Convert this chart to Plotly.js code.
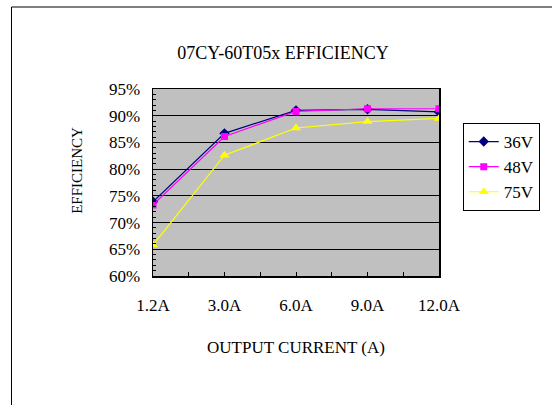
<!DOCTYPE html>
<html>
<head>
<meta charset="utf-8">
<script src="https://cdn.plot.ly/plotly-3.0.1.min.js"></script>
<style>
html,body{margin:0;padding:0;background:#fff;}
#chart{width:552px;height:405px;}
</style>
</head>
<body>
<div id="chart"></div>
<script>
const categories = ['1.2A', '3.0A', '6.0A', '9.0A', '12.0A'];
const eff36V = [0.739, 0.867, 0.910, 0.912, 0.907];
const eff48V = [0.733, 0.861, 0.908, 0.913, 0.913];
const eff75V = [0.658, 0.826, 0.877, 0.889, 0.895];
const seriesNames = ['36V', '48V', '75V'];

const xIdx = categories.map((c, i) => i);
const FONT = 'Liberation Serif, Times New Roman, serif';

const traces = [
  {x: xIdx, y: eff36V, name: seriesNames[0], legendgroup: 'a', mode: 'lines+markers',
   line: {color: '#000080', width: 1.2}, marker: {symbol: 'diamond', size: 8, color: '#000080'}},
  {x: xIdx, y: eff48V, name: seriesNames[1], legendgroup: 'b', mode: 'lines+markers',
   line: {color: '#FF00FF', width: 1.2}, marker: {symbol: 'square', size: 7, color: '#FF00FF'}},
  {x: xIdx, y: eff75V, name: seriesNames[2], legendgroup: 'c', mode: 'lines+markers',
   line: {color: '#FFFF00', width: 1.2}, marker: {symbol: 'triangle-up', size: 9, color: '#FFFF00'}}
];

const L = 153, R = 110, T = 89, B = 129;
const pw = 552 - L - R, ph = 405 - T - B;

const layout = {
  width: 552, height: 405,
  margin: {l: L, r: R, t: T, b: B, pad: 0},
  paper_bgcolor: '#FFFFFF',
  plot_bgcolor: '#C0C0C0',
  font: {family: FONT, size: 17, color: '#000'},
  showlegend: true,
  title: {text: '07CY-60T05x EFFICIENCY', font: {family: FONT, size: 18, color: '#000'},
          xref: 'container', yref: 'container', x: 283/552, xanchor: 'center',
          y: 1 - 53/405, yanchor: 'middle'},
  xaxis: {
    range: [0, 4], tickmode: 'array', tickvals: xIdx, ticktext: categories,
    showgrid: false, zeroline: false,
    showline: true, mirror: true, linecolor: '#000', linewidth: 1.5,
    ticks: 'inside', ticklen: 4, tickcolor: '#000', tickwidth: 1,
    ticklabelstandoff: 13,
    minor: {dtick: 0.5, tick0: 0, ticks: 'inside', ticklen: 4, tickcolor: '#000', showgrid: false},
    tickfont: {family: FONT, size: 17, color: '#000'},
    title: {text: 'OUTPUT CURRENT (A)', font: {family: FONT, size: 17, color: '#000'}, standoff: 27},
    fixedrange: true
  },
  yaxis: {
    range: [0.60, 0.95], dtick: 0.05, tick0: 0.60, tickformat: '.0%',
    showgrid: true, gridcolor: '#000', gridwidth: 1, zeroline: false,
    showline: true, mirror: true, linecolor: '#000', linewidth: 1.5,
    ticks: 'inside', ticklen: 4, tickcolor: '#000', tickwidth: 1,
    ticklabelstandoff: 8,
    minor: {dtick: 0.01, tick0: 0.60, ticks: 'inside', ticklen: 3, tickcolor: '#000', showgrid: false},
    tickfont: {family: FONT, size: 17, color: '#000'},
    fixedrange: true
  },
  legend: {
    x: (466 - L)/pw, y: (405 - B - 123)/ph, xanchor: 'left', yanchor: 'top',
    bgcolor: '#FFFFFF', bordercolor: '#000', borderwidth: 1,
    font: {family: FONT, size: 17, color: '#000'},
    tracegroupgap: 0, itemwidth: 30
  },
  annotations: [
    {text: 'EFFICIENCY', textangle: -90, xref: 'paper', yref: 'paper',
     x: (76 - L)/pw, y: (405 - B - 170)/ph, xanchor: 'center', yanchor: 'middle',
     showarrow: false, font: {family: FONT, size: 15, color: '#000'}}
  ],
  shapes: [
    {type: 'rect', xref: 'paper', yref: 'paper',
     x0: (10 - L)/pw, x1: (600 - L)/pw, y0: (405 - B - 450)/ph, y1: (405 - B - 7)/ph,
     line: {color: '#000', width: 1}, fillcolor: 'rgba(0,0,0,0)', layer: 'below'}
  ]
};

Plotly.newPlot('chart', traces, layout, {displayModeBar: false, staticPlot: true});
</script>
</body>
</html>
